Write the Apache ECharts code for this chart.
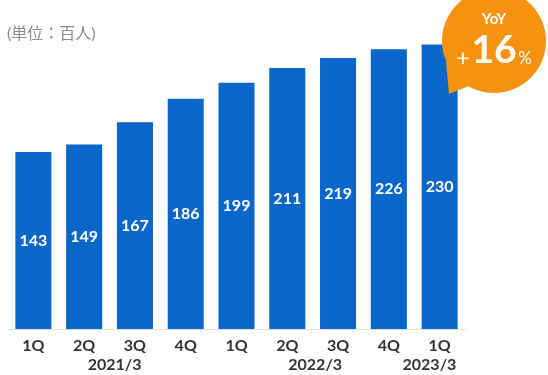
<!DOCTYPE html>
<html>
<head>
<meta charset="utf-8">
<script src="https://cdn.jsdelivr.net/npm/echarts@6/dist/echarts.min.js"></script>
<style>
  html, body { margin: 0; padding: 0; background: #fff; }
  #chart { width: 548px; height: 375px; }
</style>
</head>
<body>
<div id="chart"></div>
<script>
const quarters = ['1Q', '2Q', '3Q', '4Q', '1Q', '2Q', '3Q', '4Q', '1Q'];
const members = [143, 149, 167, 186, 199, 211, 219, 226, 230];
// year label and where it sits, in category index units
const yearLabels = ['2021/3', '2022/3', '2023/3'];
const yearAt = [1.6, 5.55, 7.8];

const font = 'Lato, "Noto Sans CJK JP", sans-serif';
const chart = echarts.init(document.getElementById('chart'));

chart.setOption({
  animation: false,
  grid: { left: 8, right: 83, top: 32, bottom: 46 },
  xAxis: {
    type: 'category',
    data: quarters,
    axisLine: { lineStyle: { color: '#e0e0e0', width: 1 } },
    axisTick: { show: false },
    axisLabel: { color: '#333', fontFamily: font, fontWeight: 'bold', fontSize: 16, margin: 9 }
  },
  yAxis: {
    type: 'value',
    min: 0,
    max: 240,
    show: false,
    splitLine: { show: false }
  },
  series: [{
    type: 'bar',
    data: members,
    barCategoryGap: '29%',
    itemStyle: { color: '#0b66c9' },
    label: {
      show: true,
      position: 'inside',
      color: '#fff',
      fontFamily: font,
      fontWeight: 'bold',
      fontSize: 16
    }
  }]
});

const baseY = chart.convertToPixel({ yAxisIndex: 0 }, 0);
const x0 = chart.convertToPixel({ xAxisIndex: 0 }, 0);
const step = chart.convertToPixel({ xAxisIndex: 0 }, 1) - x0;
const yearText = yearLabels.map((t, i) => ({
  type: 'text',
  z: 100,
  x: x0 + step * yearAt[i],
  y: baseY + 36,
  style: {
    text: t, fill: '#333', font: 'bold 16px ' + font,
    align: 'center', verticalAlign: 'middle'
  }
}));

chart.setOption({
  graphic: [
    {
      type: 'text', x: 7, y: 34, z: 100,
      style: { text: '(単位：百人)', fill: '#8a8a8a', font: '16px ' + font, verticalAlign: 'middle' }
    },
    {
      type: 'polygon', z: 100,
      shape: { points: [[446, 62], [449, 94], [474, 84]] },
      style: { fill: '#f5920f' }
    },
    {
      type: 'circle', z: 100,
      shape: { cx: 494, cy: 41, r: 52 },
      style: { fill: '#f5920f' }
    },
    {
      type: 'text', x: 494, y: 19, z: 101,
      style: { text: 'YoY', fill: '#fff', font: 'bold 15px ' + font, align: 'center', verticalAlign: 'middle' }
    },
    {
      type: 'text', x: 463, y: 58, z: 101,
      style: { text: '+', fill: '#fff', font: '24px ' + font, align: 'center', verticalAlign: 'middle' }
    },
    {
      type: 'text', x: 494, y: 50, z: 101,
      style: { text: '16', fill: '#fff', font: 'bold 39px ' + font, align: 'center', verticalAlign: 'middle' }
    },
    {
      type: 'text', x: 525, y: 59, z: 101,
      style: { text: '%', fill: '#fff', font: '17px ' + font, align: 'center', verticalAlign: 'middle' }
    }
  ].concat(yearText)
});
</script>
</body>
</html>
